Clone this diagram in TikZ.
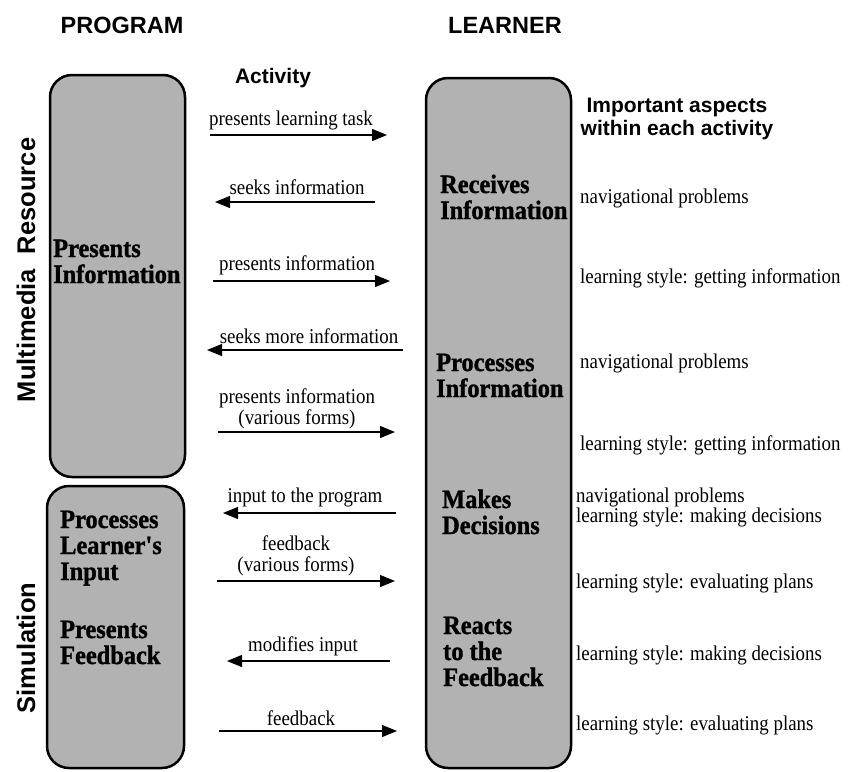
\documentclass[tikz,border=0pt]{standalone}
\usepackage{fontspec}
\setmainfont{Liberation Serif}
\setsansfont{Liberation Sans}
\newfontfamily\bodyserif[FakeStretch=0.9]{Liberation Serif}
\newfontfamily\heavyserif[FakeStretch=0.92,FakeBold=1.2]{Liberation Serif}
\usetikzlibrary{arrows.meta}

\tikzset{
  panel/.style={draw=black, line width=2.5pt, fill=black!30, rounded corners=22pt, inner sep=0pt},
  header/.style={font=\sffamily\bfseries\fontsize{23.5}{26}\selectfont, inner sep=0pt, anchor=base},
  colhead/.style={font=\sffamily\bfseries\fontsize{21}{23}\selectfont, inner sep=0pt, anchor=base, align=center},
  side/.style={font=\sffamily\bfseries\fontsize{25.5}{28}\selectfont, inner sep=0pt, rotate=90},
  activity/.style={font=\heavyserif\bfseries\fontsize{26.5}{26}\selectfont, inner sep=0pt, anchor=base west, align=left},
  msg/.style={font=\bodyserif\fontsize{21}{21}\selectfont, inner sep=0pt, anchor=base, align=center},
  aspect/.style={font=\bodyserif\fontsize{21}{20}\selectfont, inner sep=0pt, anchor=base west, align=left},
  flow/.style={line width=1.2pt, -{Triangle[length=15pt,width=12pt]}},
}

\begin{document}
\begin{tikzpicture}[x=1pt, y=-1pt]
\useasboundingbox (0,0) rectangle (848,771);

% column headings (multi-line nodes are placed by their last baseline)
\node[header] (hprog) at (122,33) {PROGRAM};
\node[header] (hlearn) at (505,33) {LEARNER};
\node[colhead] (hact) at (273,83) {Activity};
\node[colhead] (hasp) at (677,135) {Important aspects\\within each activity};

% section labels on the left
\node[side] (smm) at (26,270) {Multimedia\hspace{15pt}Resource};
\node[side] (ssim) at (26,648) {Simulation};

% the three panels
\node[panel, minimum width=135pt, minimum height=402pt] (mmbox) at (117.5,276) {};
\node[panel, minimum width=137pt, minimum height=282pt] (simbox) at (115.5,627) {};
\node[panel, minimum width=145pt, minimum height=690pt] (lbox) at (498.5,423) {};

% program activities
\node[activity] (pinfo) at (53,283) {Presents\\Information};
\node[activity] (pinput) at (60,580) {Processes\\Learner's\\Input};
\node[activity] (pfeed) at (60,664) {Presents\\Feedback};

% learner activities
\node[activity] (lrecv) at (440,219) {Receives\\Information};
\node[activity] (lproc) at (436,397) {Processes\\Information};
\node[activity] (ldec) at (442,534) {Makes\\Decisions};
\node[activity] (lreact) at (443,686) {Reacts\\to the\\Feedback};

% message arrows between program and learner
\coordinate (a1s) at (210,135); \coordinate (a1e) at (387,135);
\coordinate (a2s) at (375,202); \coordinate (a2e) at (215,202);
\coordinate (a3s) at (213,281); \coordinate (a3e) at (390,281);
\coordinate (a4s) at (403,350); \coordinate (a4e) at (207,350);
\coordinate (a5s) at (218,432); \coordinate (a5e) at (395,432);
\coordinate (a6s) at (396,513); \coordinate (a6e) at (223,513);
\coordinate (a7s) at (217,581); \coordinate (a7e) at (395,581);
\coordinate (a8s) at (390,661); \coordinate (a8e) at (227,661);
\coordinate (a9s) at (219,731); \coordinate (a9e) at (397,731);

\draw[flow] (a1s) -- (a1e);
\draw[flow] (a2s) -- (a2e);
\draw[flow] (a3s) -- (a3e);
\draw[flow] (a4s) -- (a4e);
\draw[flow] (a5s) -- (a5e);
\draw[flow] (a6s) -- (a6e);
\draw[flow] (a7s) -- (a7e);
\draw[flow] (a8s) -- (a8e);
\draw[flow] (a9s) -- (a9e);

\node[msg] (m1) at (291,125) {presents learning task};
\node[msg] (m2) at (297,194) {seeks information};
\node[msg] (m3) at (297,270) {presents information};
\node[msg] (m4) at (309,343) {seeks more information};
\node[msg] (m5) at (297,424) {presents information\\(various forms)};
\node[msg] (m6) at (305,502) {input to the program};
\node[msg] (m7) at (296,571) {feedback\\(various forms)};
\node[msg] (m8) at (303,651) {modifies input};
\node[msg] (m9) at (301,725) {feedback};

% aspects of each learner activity
\node[aspect] (x1) at (580,203) {navigational problems};
\node[aspect] (x2) at (580,283) {learning style: getting information};
\node[aspect] (x3) at (580,368) {navigational problems};
\node[aspect] (x4) at (580,450) {learning style: getting information};
\node[aspect] (x5) at (576,522) {navigational problems\\learning style: making decisions};
\node[aspect] (x6) at (576,588) {learning style: evaluating plans};
\node[aspect] (x7) at (576,660) {learning style: making decisions};
\node[aspect] (x8) at (576,730) {learning style: evaluating plans};
\end{tikzpicture}
\end{document}
